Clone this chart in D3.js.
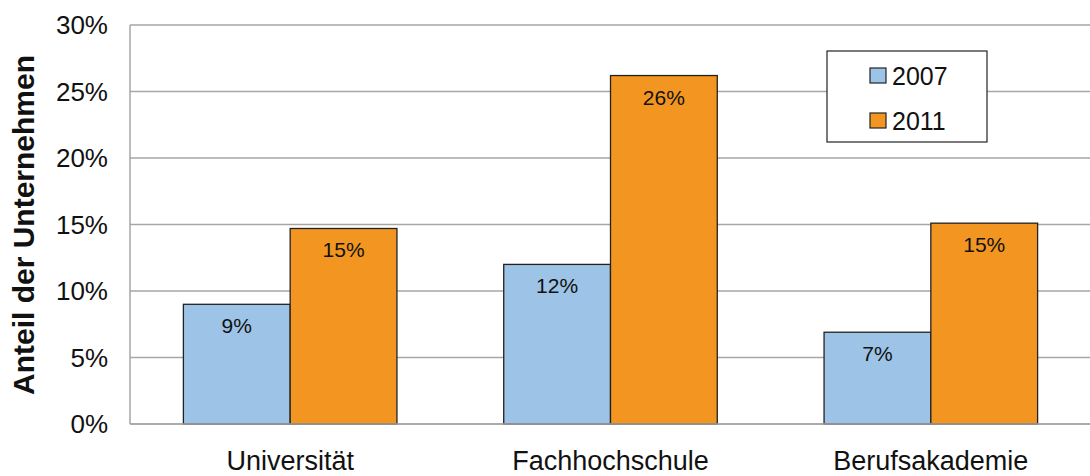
<!DOCTYPE html>
<html>
<head>
<meta charset="utf-8">
<script src="https://cdn.jsdelivr.net/npm/d3@7"></script>
<style>
  body { margin: 0; background: #fff; }
  svg { font-family: "Liberation Sans", Arial, sans-serif; }
</style>
</head>
<body>
<div id="chart"></div>
<script>
const categories = ["Universität", "Fachhochschule", "Berufsakademie"];
const years = ["2007", "2011"];
const values2007 = [9.0, 12.0, 6.9];
const values2011 = [14.7, 26.2, 15.1];
const labels2007 = ["9%", "12%", "7%"];
const labels2011 = ["15%", "26%", "15%"];
const yTicks = [0, 5, 10, 15, 20, 25, 30];

const colors = {"2007": "#9dc3e6", "2011": "#f39621"};
const series = [
  {year: "2007", values: values2007, labels: labels2007},
  {year: "2011", values: values2011, labels: labels2011}
];

const width = 1090, height = 476;
const margin = {top: 25, right: -1, bottom: 52, left: 130};

const svg = d3.select("#chart").append("svg")
    .attr("width", width)
    .attr("height", height);

const x = d3.scaleBand()
    .domain(categories)
    .range([margin.left, width - margin.right])
    .paddingInner(0)
    .paddingOuter(0);

const xSub = d3.scaleBand()
    .domain(years)
    .range([0, x.bandwidth()])
    .paddingOuter(0.5);

const y = d3.scaleLinear()
    .domain([0, 30])
    .range([height - margin.bottom, margin.top]);

// gridlines
svg.append("g")
  .selectAll("line")
  .data(yTicks)
  .join("line")
    .attr("x1", margin.left)
    .attr("x2", width)
    .attr("y1", d => y(d))
    .attr("y2", d => y(d))
    .attr("stroke", "#a6a6a6")
    .attr("stroke-width", 1.5);

// left axis line
svg.append("line")
    .attr("x1", margin.left).attr("x2", margin.left)
    .attr("y1", y(30)).attr("y2", y(0))
    .attr("stroke", "#a6a6a6")
    .attr("stroke-width", 1.5);

// bars
const groups = svg.append("g").selectAll("g")
  .data(series)
  .join("g");

groups.selectAll("rect")
  .data(s => s.values.map((v, i) => ({year: s.year, cat: categories[i], v})))
  .join("rect")
    .attr("x", d => x(d.cat) + xSub(d.year))
    .attr("y", d => y(d.v))
    .attr("width", xSub.bandwidth())
    .attr("height", d => y(0) - y(d.v))
    .attr("fill", d => colors[d.year])
    .attr("stroke", "#222")
    .attr("stroke-width", 1.3);

groups.selectAll("text")
  .data(s => s.values.map((v, i) => ({year: s.year, cat: categories[i], v, label: s.labels[i]})))
  .join("text")
    .attr("x", d => x(d.cat) + xSub(d.year) + xSub.bandwidth() / 2)
    .attr("y", d => y(d.v) + 29)
    .attr("text-anchor", "middle")
    .attr("font-size", 21)
    .attr("fill", "#111")
    .text(d => d.label);

// baseline over bars
svg.append("line")
    .attr("x1", margin.left).attr("x2", width)
    .attr("y1", y(0)).attr("y2", y(0))
    .attr("stroke", "#a6a6a6")
    .attr("stroke-width", 1.5);

// y tick labels
svg.append("g")
  .selectAll("text")
  .data(yTicks)
  .join("text")
    .attr("x", 108)
    .attr("y", d => y(d))
    .attr("dy", "0.36em")
    .attr("text-anchor", "end")
    .attr("font-size", 26)
    .attr("fill", "#111")
    .text(d => d + "%");

// x category labels
svg.append("g")
  .selectAll("text")
  .data(categories)
  .join("text")
    .attr("x", d => x(d) + x.bandwidth() / 2)
    .attr("y", 470)
    .attr("text-anchor", "middle")
    .attr("font-size", 27)
    .attr("fill", "#111")
    .text(d => d);

// y axis title
svg.append("text")
    .attr("transform", "translate(34,225) rotate(-90)")
    .attr("text-anchor", "middle")
    .attr("font-size", 30)
    .attr("font-weight", "bold")
    .attr("fill", "#111")
    .text("Anteil der Unternehmen");

// legend
const legend = svg.append("g").attr("transform", "translate(827,51)");
legend.append("rect")
    .attr("width", 160).attr("height", 91)
    .attr("fill", "#fff")
    .attr("stroke", "#222")
    .attr("stroke-width", 1.2);

const legendItems = legend.selectAll("g.item")
  .data(years)
  .join("g")
    .attr("class", "item")
    .attr("transform", (d, i) => `translate(43,${24.5 + i * 45})`);

legendItems.append("rect")
    .attr("x", 0).attr("y", -7.5)
    .attr("width", 16).attr("height", 15)
    .attr("fill", d => colors[d])
    .attr("stroke", "#222")
    .attr("stroke-width", 1.2);

legendItems.append("text")
    .attr("x", 22)
    .attr("y", 0)
    .attr("dy", "0.36em")
    .attr("font-size", 25)
    .attr("fill", "#111")
    .text(d => d);
</script>
</body>
</html>
